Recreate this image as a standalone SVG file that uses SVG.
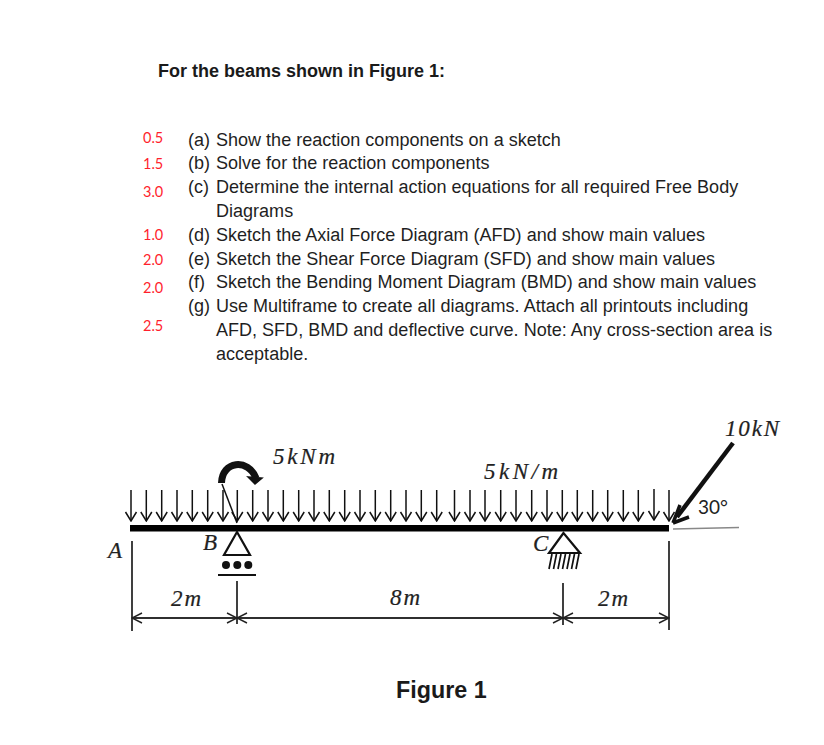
<svg xmlns="http://www.w3.org/2000/svg" width="824" height="745" viewBox="0 0 824 745">
<style>
.t{font-family:"Liberation Sans",Arial,sans-serif;font-size:18.05px;fill:#1f1f1f}
.b{font-family:"Liberation Sans",Arial,sans-serif;font-weight:bold;fill:#1a1a1a}
.r{font-family:Lato,"Liberation Sans",sans-serif;font-size:14.5px;fill:#ff1f2d}
.m{font-family:"Liberation Serif",serif;font-style:italic;font-size:23px;fill:#222;stroke:#222;stroke-width:0.2}
.l{fill:none;stroke:#111;stroke-width:1.6}
.load{fill:none;stroke:#111;stroke-width:1.5;marker-end:url(#v)}
.dim{fill:none;stroke:#222;stroke-width:1.4;marker-end:url(#d)}
</style>
<defs>
<marker id="v" markerUnits="userSpaceOnUse" markerWidth="14" markerHeight="14" refX="13" refY="7" orient="auto" viewBox="0 0 14 14"><path d="M4 1.500 L13 7 L4 12.500" fill="none" stroke="#111" stroke-width="1.500"/></marker>
<marker id="d" markerUnits="userSpaceOnUse" markerWidth="14" markerHeight="12" refX="13" refY="6" orient="auto" viewBox="0 0 14 12"><path d="M3 1 L13 6 L3 11" fill="none" stroke="#222" stroke-width="1.4"/></marker>
</defs>
<g id="text">
<text class="b" x="158" y="77" font-size="18px">For the beams shown in Figure 1:</text>
<text class="r" x="143" y="143">0.5</text>
<text class="r" x="143" y="169">1.5</text>
<text class="r" x="143" y="197">3.0</text>
<text class="r" x="143" y="240">1.0</text>
<text class="r" x="143" y="265">2.0</text>
<text class="r" x="143" y="293">2.0</text>
<text class="r" x="143" y="331">2.5</text>
<text class="t" x="188" y="146">(a)<tspan x="216">Show the reaction components on a sketch</tspan></text>
<text class="t" x="188" y="169">(b)<tspan x="216">Solve for the reaction components</tspan></text>
<text class="t" x="188" y="193">(c)<tspan x="216">Determine the internal action equations for all required Free Body</tspan></text>
<text class="t" x="216" y="217">Diagrams</text>
<text class="t" x="188" y="241">(d)<tspan x="216">Sketch the Axial Force Diagram (AFD) and show main values</tspan></text>
<text class="t" x="188" y="265">(e)<tspan x="216">Sketch the Shear Force Diagram (SFD) and show main values</tspan></text>
<text class="t" x="188" y="288">(f)<tspan x="216">Sketch the Bending Moment Diagram (BMD) and show main values</tspan></text>
<text class="t" x="188" y="312">(g)<tspan x="216">Use Multiframe to create all diagrams. Attach all printouts including</tspan></text>
<text class="t" x="216" y="336">AFD, SFD, BMD and deflective curve. Note: Any cross-section area is</text>
<text class="t" x="216" y="360">acceptable.</text>
<text class="b" x="396" y="698" font-size="23.300px">Figure 1</text>
</g>
<g id="connectors">
<g class="arrows">
<line class="load" x1="131" y1="490" x2="131" y2="521"/><line class="load" x1="146.300" y1="490" x2="146.300" y2="521"/><line class="load" x1="161.700" y1="490" x2="161.700" y2="521"/><line class="load" x1="177" y1="490" x2="177" y2="521"/><line class="load" x1="192.300" y1="490" x2="192.300" y2="521"/><line class="load" x1="207.700" y1="490" x2="207.700" y2="521"/><line class="load" x1="223" y1="490" x2="223" y2="521"/><line class="load" x1="237.300" y1="490" x2="237.300" y2="521"/><line class="load" x1="252.700" y1="490" x2="252.700" y2="521"/><line class="load" x1="268" y1="490" x2="268" y2="521"/><line class="load" x1="283.300" y1="490" x2="283.300" y2="521"/><line class="load" x1="298.700" y1="490" x2="298.700" y2="521"/><line class="load" x1="314" y1="490" x2="314" y2="521"/><line class="load" x1="329.300" y1="490" x2="329.300" y2="521"/><line class="load" x1="344.700" y1="490" x2="344.700" y2="521"/><line class="load" x1="360" y1="490" x2="360" y2="521"/><line class="load" x1="375.300" y1="490" x2="375.300" y2="521"/><line class="load" x1="390.700" y1="490" x2="390.700" y2="521"/><line class="load" x1="406" y1="490" x2="406" y2="521"/><line class="load" x1="421.300" y1="490" x2="421.300" y2="521"/><line class="load" x1="436.700" y1="490" x2="436.700" y2="521"/><line class="load" x1="454.500" y1="490" x2="454.500" y2="521"/><line class="load" x1="470" y1="490" x2="470" y2="521"/><line class="load" x1="485" y1="490" x2="485" y2="521"/><line class="load" x1="500.700" y1="490" x2="500.700" y2="521"/><line class="load" x1="516" y1="490" x2="516" y2="521"/><line class="load" x1="531.700" y1="490" x2="531.700" y2="521"/><line class="load" x1="547" y1="490" x2="547" y2="521"/><line class="load" x1="562.300" y1="490" x2="562.300" y2="521"/><line class="load" x1="577.300" y1="490" x2="577.300" y2="521"/><line class="load" x1="592.700" y1="490" x2="592.700" y2="521"/><line class="load" x1="607.700" y1="490" x2="607.700" y2="521"/><line class="load" x1="623.300" y1="490" x2="623.300" y2="521"/><line class="load" x1="638.300" y1="490" x2="638.300" y2="521"/><line class="load" x1="654" y1="489" x2="654" y2="520"/><line class="load" x1="669" y1="490" x2="669" y2="521"/>
</g>
<path d="M733 443L677 517" fill="none" stroke="#111" stroke-width="4.500"/>
<path d="M673 523L680 505M673 523L689 517" fill="none" stroke="#111" stroke-width="3.500"/>
<path d="M673 529L739 527.500" fill="none" stroke="#888" stroke-width="1.300"/>
<path d="M222 484L237 523" fill="none" stroke="#111" stroke-width="1.500"/>
<path d="M221.500 483C222 461 248 458 256 478" fill="none" stroke="#111" stroke-width="7"/>
<path d="M248 477L262 478L255 484Z" fill="#111" stroke="#111" stroke-width="1.500"/>
<path class="l" d="M132 541V631M237 581V624M563 583V625M669 541V630"/>
<line class="dim" x1="132" y1="618" x2="237" y2="618"/>
<line class="dim" x1="237" y1="618" x2="132" y2="618"/>
<line class="dim" x1="237" y1="618" x2="563" y2="618"/>
<line class="dim" x1="563" y1="618" x2="237" y2="618"/>
<line class="dim" x1="563" y1="618" x2="669" y2="618"/>
<line class="dim" x1="669" y1="618" x2="563" y2="618"/>
</g>
<g id="beam"><rect x="130" y="525" width="539" height="6.500" fill="#000"/></g>
<g id="support-b">
<path d="M237 532L224 555H250Z" fill="#fff" stroke="#111" stroke-width="2.200"/>
<circle cx="226" cy="565" r="4" fill="#111"/><circle cx="237.300" cy="565" r="4" fill="#111"/><circle cx="248.300" cy="565" r="4" fill="#111"/>
<path d="M218 575H256" stroke="#111" stroke-width="1.800"/>
</g>
<g id="support-c">
<path d="M563.500 533L549 553H580Z" fill="#fff" stroke="#111" stroke-width="2.200"/>
<path d="M549 569L552 554M553.500 569L556.500 554M558 569L561 554M562.500 569L565.500 554M567 569L570 554M571.500 569L574.500 554M576 569L579 554" stroke="#111" stroke-width="1.700"/>
</g>
<g id="labels">
<text class="m" x="108" y="558">A</text>
<text class="m" x="203" y="550">B</text>
<text class="m" x="533" y="551" font-size="20px">C</text>
<text class="m" x="273" y="464" textLength="62" lengthAdjust="spacing">5kNm</text>
<text class="m" x="484" y="479" textLength="74" lengthAdjust="spacing">5kN/m</text>
<text class="m" x="725" y="436" textLength="54" lengthAdjust="spacing">10kN</text>
<text class="m" x="171" y="606" textLength="30" lengthAdjust="spacing">2m</text>
<text class="m" x="390" y="605" textLength="30" lengthAdjust="spacing">8m</text>
<text class="m" x="598" y="606" textLength="30" lengthAdjust="spacing">2m</text>
<text x="698" y="514" font-family="Lato, Liberation Sans, sans-serif" font-size="19" fill="#222">30°</text>
</g>
</svg>
